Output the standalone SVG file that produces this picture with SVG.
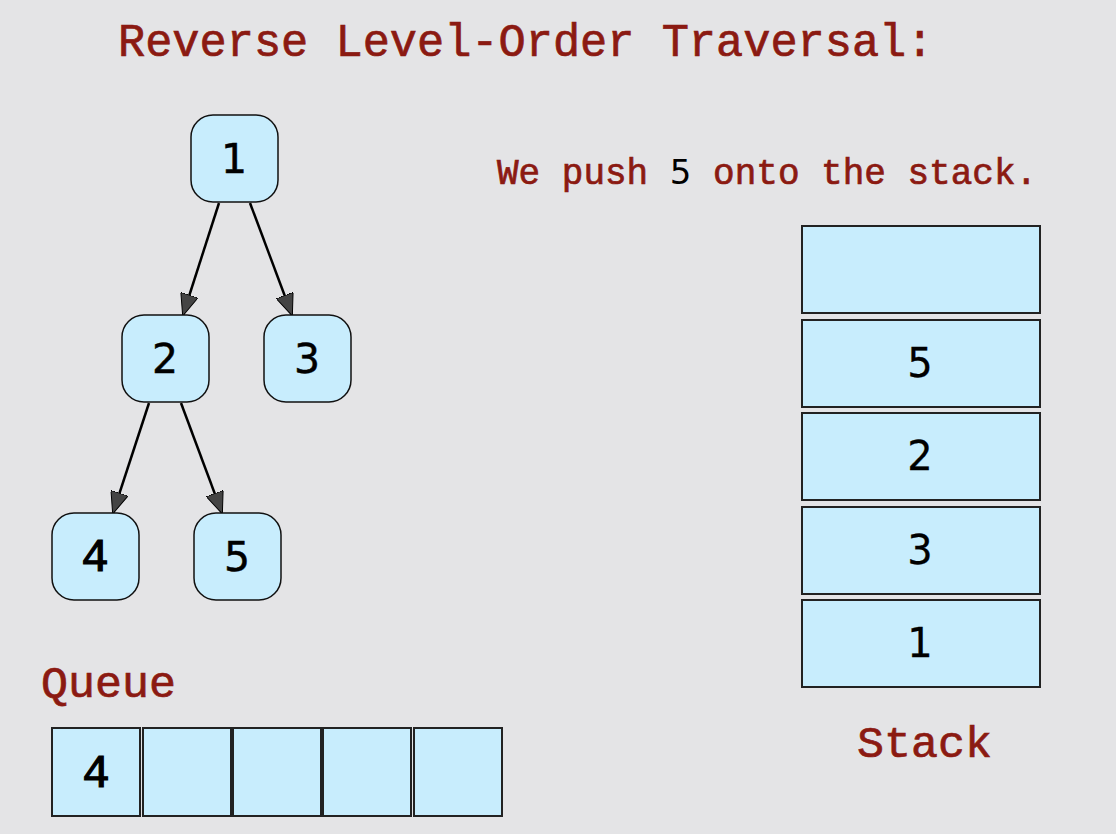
<svg xmlns="http://www.w3.org/2000/svg" width="1116" height="834" viewBox="0 0 1116 834">
<style>
.bg{fill:#e4e4e6}
.node{fill:#c8edfd;stroke:#111;stroke-width:1.5}
.box{fill:#c8edfd;stroke:#222;stroke-width:2}
.lbl{font-family:"Liberation Mono","Courier New",monospace;fill:#8b1a12;stroke:#8b1a12;stroke-width:0.7}
.num{font-family:"DejaVu Sans",Verdana,sans-serif;font-size:41px;fill:#000;stroke:#000;stroke-width:0.5;text-anchor:middle}
.snum{font-family:"DejaVu Sans",Verdana,sans-serif;font-size:40px;fill:#000;stroke:#000;stroke-width:0.3;text-anchor:middle}
.four{font-family:"Liberation Mono","Courier New",monospace;font-size:46px;fill:#000;stroke:#000;stroke-width:1.2;text-anchor:middle}
.edge{stroke:#000;stroke-width:2.5;fill:none;marker-end:url(#arr)}
</style>
<defs>
<marker id="arr" viewBox="0 0 22 18" refX="21" refY="9" markerWidth="22" markerHeight="18" markerUnits="userSpaceOnUse" orient="auto">
<path d="M0,0 L22,9 L0,18 Z" fill="#444" stroke="#000" stroke-width="1"/>
</marker>
</defs>
<rect class="bg" x="0" y="0" width="1116" height="834"/>
<text class="lbl" x="118" y="56" font-size="45.3">Reverse Level-Order Traversal:</text>
<text class="lbl" x="497" y="184" font-size="36">We push <tspan fill="#000" stroke="none" font-family="DejaVu Sans, sans-serif" font-size="34">5</tspan> onto the stack.</text>
<g id="connectors">
<line class="edge" x1="219" y1="203" x2="183" y2="315"/>
<line class="edge" x1="250" y1="203" x2="292" y2="315"/>
<line class="edge" x1="149" y1="403" x2="113" y2="513"/>
<line class="edge" x1="181" y1="403" x2="222" y2="513"/>
</g>
<g id="n1"><rect class="node" x="191" y="115" width="87" height="87" rx="22"/><text class="num" x="234" y="173">1</text></g>
<g id="n2"><rect class="node" x="122" y="315" width="87" height="87" rx="22"/><text class="num" x="165" y="373">2</text></g>
<g id="n3"><rect class="node" x="264" y="315" width="87" height="87" rx="22"/><text class="num" x="307" y="373">3</text></g>
<g id="n4"><rect class="node" x="52" y="513" width="87" height="87" rx="22"/><text class="four" x="95" y="571">4</text></g>
<g id="n5"><rect class="node" x="194" y="513" width="87" height="87" rx="22"/><text class="num" x="237" y="571">5</text></g>
<g id="stack">
<rect class="box" x="802" y="226" width="238" height="87"/>
<rect class="box" x="802" y="320" width="238" height="87"/>
<text class="snum" x="920" y="377">5</text>
<rect class="box" x="802" y="413" width="238" height="87"/>
<text class="snum" x="920" y="470">2</text>
<rect class="box" x="802" y="507" width="238" height="87"/>
<text class="snum" x="920" y="564">3</text>
<rect class="box" x="802" y="600" width="238" height="87"/>
<text class="snum" x="920" y="657">1</text>
</g>
<text class="lbl" x="857" y="757" font-size="45">Stack</text>
<text class="lbl" x="41" y="697" font-size="45">Queue</text>
<g id="queue">
<rect class="box" x="52" y="728" width="88" height="88"/>
<text class="four" x="96" y="787">4</text>
<rect class="box" x="143" y="728" width="88" height="88"/>
<rect class="box" x="233" y="728" width="88" height="88"/>
<rect class="box" x="323" y="728" width="88" height="88"/>
<rect class="box" x="414" y="728" width="88" height="88"/>
</g>
</svg>
